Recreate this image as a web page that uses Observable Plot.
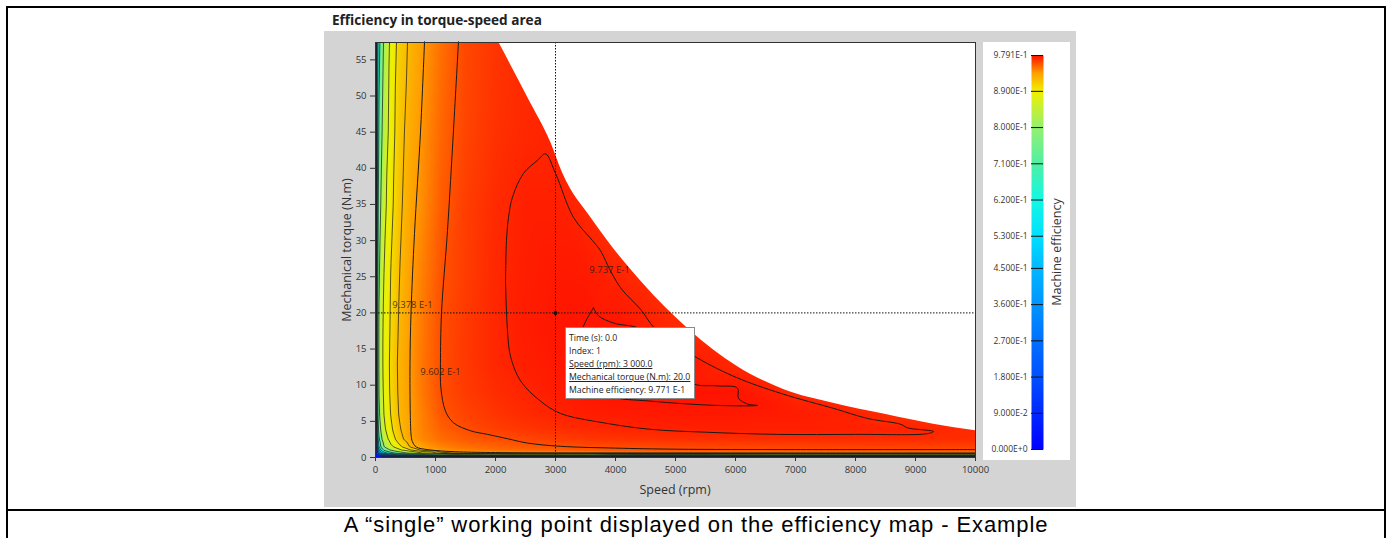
<!DOCTYPE html>
<html><head><meta charset="utf-8">
<script src="https://cdn.jsdelivr.net/npm/d3@7"></script>
<script src="https://cdn.jsdelivr.net/npm/@observablehq/plot@0.6"></script>
<style>
body{margin:0;background:#fff;width:1392px;height:538px;position:relative;overflow:hidden;font-family:"Open Sans",sans-serif}
.abs{position:absolute}
.bl{background:#000}
#tip{left:565px;top:327px;width:130px;height:72px;box-sizing:border-box;border:1px solid #8a8a8a;background:#fff;font-size:8.7px;line-height:13px;padding:4px 3px;color:#222;white-space:nowrap}
#tip u{text-decoration:underline}
.rot{transform:translate(-50%,-50%) rotate(-90deg);white-space:nowrap;color:#333}
</style></head><body>
<div class="abs bl" style="left:6px;top:6px;width:1380px;height:2px"></div>
<div class="abs bl" style="left:6px;top:6px;width:2px;height:532px"></div>
<div class="abs bl" style="left:1384px;top:6px;width:2px;height:532px"></div>
<div class="abs bl" style="left:6px;top:509px;width:1380px;height:2px"></div>
<div class="abs" style="left:324px;top:31px;width:752px;height:476px;background:#d4d4d4"></div>
<div class="abs" style="left:332px;top:11px;font-weight:bold;font-size:13.6px;line-height:18px;color:#222">Efficiency in torque-speed area</div>
<div id="main" class="abs" style="left:324px;top:31px"></div>
<div id="legend" class="abs" style="left:983px;top:42px"></div>
<div class="abs rot" style="left:346px;top:250px;font-size:12.5px">Mechanical torque (N.m)</div>
<div class="abs" style="left:675px;top:489px;transform:translate(-50%,-50%);font-size:12.5px;color:#333;white-space:nowrap">Speed (rpm)</div>
<div class="abs rot" style="left:1056px;top:252px;font-size:12.5px">Machine efficiency</div>
<div id="tip" class="abs">Time (s): 0.0<br>Index: 1<br><u>Speed (rpm): 3 000.0</u><br><u>Mechanical torque (N.m): 20.0</u><br>Machine efficiency: 9.771 E-1</div>
<div class="abs" style="left:6px;top:511px;width:1380px;height:27px;line-height:27px;text-align:center;font-family:'Liberation Sans',Arial,sans-serif;font-size:22px;letter-spacing:0.9px;color:#000">A “single” working point displayed on the efficiency map - Example</div>
<script>
// ---- grid of machine efficiency ----
const speedGrid = [0, 25, 50, 100, 150, 250, 400, 600, 800, 1100, 1500, 2000, 2500, 3000, 3500, 4000, 5000, 6000, 7000, 8000, 9000, 10000];
const torqueGrid = [0, 0.3, 0.6, 1, 1.5, 2.5, 4, 6, 9, 13, 18, 25, 35, 45, 57.5];
const eff_T0    = [0,0,0,0,0,0,0,0,0,0,0,0,0,0,0,0,0,0,0,0,0,0];
const eff_T0_3  = [0, 0.05, 0.12, 0.2, 0.28, 0.36, 0.45, 0.52, 0.6, 0.68, 0.74, 0.78, 0.8, 0.8, 0.78, 0.72, 0.7, 0.75, 0.78, 0.78, 0.78, 0.78];
const eff_T0_6  = [0, 0.15, 0.3, 0.45, 0.55, 0.65, 0.75, 0.82, 0.87, 0.91, 0.93, 0.937, 0.939, 0.94, 0.941, 0.942, 0.943, 0.944, 0.945, 0.945, 0.946, 0.946];
const eff_T1    = [0, 0.25, 0.45, 0.62, 0.72, 0.8, 0.86, 0.9, 0.925, 0.939, 0.945, 0.95, 0.953, 0.955, 0.957, 0.958, 0.9598, 0.9602, 0.9602, 0.9603, 0.9603, 0.9603];
const eff_T1_5  = [0, 0.35, 0.58, 0.74, 0.81, 0.86, 0.895, 0.925, 0.935, 0.944, 0.95, 0.954, 0.957, 0.9588, 0.9602, 0.961, 0.9625, 0.963, 0.9635, 0.964, 0.964, 0.964];
const eff_T2_5  = [0, 0.42, 0.66, 0.79, 0.845, 0.885, 0.912, 0.935, 0.943, 0.951, 0.956, 0.9598, 0.9625, 0.965, 0.967, 0.968, 0.9695, 0.97, 0.9705, 0.9708, 0.971, 0.9705];
const eff_T4    = [0, 0.5, 0.73, 0.83, 0.865, 0.895, 0.918, 0.937, 0.945, 0.955, 0.9608, 0.965, 0.968, 0.97, 0.9718, 0.973, 0.9742, 0.9745, 0.9745, 0.9742, 0.9735, 0.971];
const eff_T6    = [0, 0.55, 0.77, 0.85, 0.875, 0.9, 0.922, 0.937, 0.946, 0.958, 0.9635, 0.968, 0.9712, 0.9735, 0.975, 0.9758, 0.9765, 0.9765, 0.9755, 0.9737, 0.969, 0.965];
const eff_T9    = [0, 0.58, 0.79, 0.855, 0.88, 0.903, 0.924, 0.9378, 0.948, 0.9603, 0.966, 0.9705, 0.9732, 0.9755, 0.9772, 0.978, 0.9785, 0.978, 0.972, 0.966, 0.962, 0.958];
const eff_T13   = [0, 0.6, 0.8, 0.86, 0.882, 0.904, 0.925, 0.939, 0.949, 0.9605, 0.9668, 0.9722, 0.9748, 0.9766, 0.9777, 0.9785, 0.978, 0.9718, 0.967, 0.962, 0.958, 0.955];
const eff_T18   = [0, 0.6, 0.8, 0.86, 0.88, 0.902, 0.923, 0.9385, 0.948, 0.9603, 0.9665, 0.9722, 0.9755, 0.9771, 0.9777, 0.9778, 0.9713, 0.967, 0.962, 0.958, 0.955, 0.952];
const eff_T25   = [0, 0.58, 0.78, 0.85, 0.875, 0.9, 0.92, 0.937, 0.946, 0.959, 0.9655, 0.972, 0.975, 0.9765, 0.9762, 0.9735, 0.968, 0.963, 0.959, 0.955, 0.952, 0.95];
const eff_T35   = [0, 0.55, 0.74, 0.82, 0.86, 0.893, 0.916, 0.933, 0.942, 0.956, 0.965, 0.971, 0.9745, 0.9745, 0.972, 0.968, 0.963, 0.959, 0.955, 0.952, 0.95, 0.948];
const eff_T45   = [0, 0.53, 0.7, 0.79, 0.84, 0.888, 0.913, 0.93, 0.94, 0.953, 0.963, 0.969, 0.972, 0.9735, 0.971, 0.967, 0.962, 0.958, 0.954, 0.951, 0.949, 0.947];
const eff_T57_5 = [0, 0.5, 0.65, 0.76, 0.82, 0.88, 0.91, 0.925, 0.937, 0.95, 0.962, 0.968, 0.971, 0.972, 0.97, 0.966, 0.961, 0.957, 0.953, 0.95, 0.948, 0.946];

// ---- maximum torque envelope ----
const envSpeed  = [2050, 2550, 2920, 3120, 3620, 4420, 5250, 6030, 6800, 7630, 8470, 9300, 10000];
const envTorque = [57.5, 49.6, 43.6, 39.3, 32.8, 24.4, 17.5, 12.6, 9.4, 7.5, 6.0, 4.6, 3.7];

// ---- traced iso-efficiency lines [speed, torque] ----
const contour_9378 = [[817,57.5],[750,45],[650,31],[592,20],[575,13],[580,6],[595,3],[615,2.2],[680,1.45],[860,1.1],[1100,0.9],[1400,0.78],[2000,0.68],[3000,0.64],[5000,0.62],[7500,0.62],[10000,0.62]];
const contour_9602 = [[1383,57.5],[1300,45.3],[1200,31.4],[1100,20],[1083,13],[1090,9.6],[1167,6.4],[1300,4.8],[1583,3.7],[1867,3.2],[2200,2.6],[2533,2.0],[3083,1.55],[4000,1.3],[5000,1.15],[7000,1.1],[10000,1.1]];
const contour_9737 = [[2167,24.4],[2183,30],[2217,33.2],[2283,36],[2467,39.3],[2700,41.1],[2833,42.0],[3000,39.3],[3300,33.2],[3617,30],[3750,28.6],[3917,25.8],[4100,23.3],[4417,20.5],[4650,17.9],[5000,15.8],[5367,13.75],[6033,11],[6800,8.75],[7633,6.8],[8200,5.4],[8750,4.6],[8870,4.1],[9300,3.6],[9200,3.3],[8000,3.2],[6700,3.2],[5500,3.5],[4583,3.9],[3800,4.8],[3083,6.1],[2750,7.8],[2417,10.6],[2250,14],[2200,17.5],[2167,24.4]];
const contour_9776 = [[3633,20.7],[3717,19.6],[3967,18.6],[4417,17.8],[4800,15],[5100,12],[5300,10.2],[5700,9.9],[6033,9.6],[6050,8.2],[6200,7.4],[6367,7.2],[5700,7.2],[4583,7.8],[3900,8.5],[3550,10.5],[3400,14],[3450,17.8],[3633,20.7]];
const lowLevels = [0.1, 0.2, 0.3, 0.4, 0.5, 0.6, 0.7, 0.8, 0.87, 0.9, 0.92];

// ---- contour labels ----
const labelSpeed  = [617, 1083, 3900];
const labelTorque = [21.1, 11.8, 26.0];
const labelText   = ["9.378 E-1", "9.602 E-1", "9.737 E-1"];

// ---- working point ----
const pointSpeed = [3000];
const pointTorque = [20];

// ---- axes & colour bar ----
const xTicks = [0,1000,2000,3000,4000,5000,6000,7000,8000,9000,10000];
const yTicks = [0,5,10,15,20,25,30,35,40,45,50,55];
const legendTicks = [0, 0.09, 0.18, 0.27, 0.36, 0.45, 0.53, 0.62, 0.71, 0.80, 0.89, 0.9791];
const colorStops = [0, 0.09, 0.18, 0.27, 0.36, 0.45, 0.53, 0.62, 0.71, 0.80, 0.89, 0.935, 0.9791];
const colorRange = ["#0000ff","#0028ff","#0050ff","#0070ff","#0094ff","#00b8ff","#00e0ff","#14f8e4","#50f0a4","#94f070","#f0f000","#ffa000","#ff1000"];

const effRows = [eff_T0, eff_T0_3, eff_T0_6, eff_T1, eff_T1_5, eff_T2_5, eff_T4, eff_T6, eff_T9, eff_T13, eff_T18, eff_T25, eff_T35, eff_T45, eff_T57_5];
const grid = torqueGrid.flatMap((t, i) => speedGrid.map((s, j) => ({s, t, e: effRows[i][j]})));
const envelope = envSpeed.map((s, i) => ({s, t: envTorque[i]}));
const labels = labelSpeed.map((s, i) => ({s, t: labelTorque[i], text: labelText[i]}));
const point = pointSpeed.map((s, i) => ({s, t: pointTorque[i]}));
const color = {type: "linear", domain: colorStops, range: colorRange, clamp: true};
const traced = [contour_9378, contour_9602, contour_9737, contour_9776];

const main = Plot.plot({
  width: 752, height: 476,
  marginLeft: 51, marginRight: 101, marginTop: 11, marginBottom: 50,
  style: {background: "transparent", fontFamily: "Open Sans", fontSize: "9.5px", color: "#333"},
  x: {domain: [0, 10000], ticks: xTicks, tickFormat: d => String(d), tickSize: 4, label: null},
  y: {domain: [0, 57.4], ticks: yTicks, tickSize: 5, label: null},
  color,
  marks: [
    Plot.frame({fill: "white"}),
    Plot.raster(grid, {x: "s", y: "t", fill: "e", interpolate: "barycentric"}),
    Plot.contour(grid, {x: "s", y: "t", value: "e", thresholds: lowLevels, interpolate: "barycentric", pixelSize: 1, fill: "none", stroke: "#1a1a1a", strokeWidth: 0.8, strokeOpacity: 0.9}),
    Plot.areaY(envelope, {x: "s", y1: "t", y2: 57.4, fill: "white", curve: "monotone-x"}),
    ...traced.map(c => Plot.line(c, {x: d => d[0], y: d => d[1], stroke: "#1a1a1a", strokeWidth: 1, curve: "catmull-rom"})),
    Plot.ruleX(point, {x: "s", stroke: "#111", strokeDasharray: "1.5,1.5", strokeWidth: 1}),
    Plot.ruleY(point, {y: "t", stroke: "#111", strokeDasharray: "1.5,1.5", strokeWidth: 1}),
    Plot.dot(point, {x: "s", y: "t", r: 2, fill: "#111", stroke: null}),
    Plot.text(labels, {x: "s", y: "t", text: "text", fill: "#2a1a10", fontSize: 9.5, fillOpacity: 0.85}),
    Plot.frame({stroke: "#333"})
  ]
});
document.getElementById("main").appendChild(main);

const fmtE = v => v.toExponential(3).replace("e", "E");
const legend = Plot.plot({
  width: 87, height: 418,
  marginLeft: 48, marginRight: 27, marginTop: 13, marginBottom: 11,
  style: {background: "white", fontFamily: "Open Sans", fontSize: "8.5px", color: "#333"},
  x: {domain: [0, 1], axis: null},
  y: {domain: [0, 0.9791], ticks: legendTicks, tickFormat: fmtE, tickSize: 0, tickPadding: 4, label: null},
  color,
  marks: [
    Plot.raster({fill: (x, y) => y, x1: 0, x2: 1, y1: 0, y2: 0.9791}),
    Plot.ruleY(legendTicks, {x1: 0, x2: 1, stroke: "#111", strokeWidth: 1})
  ]
});
document.getElementById("legend").appendChild(legend);
</script>
</body></html>
